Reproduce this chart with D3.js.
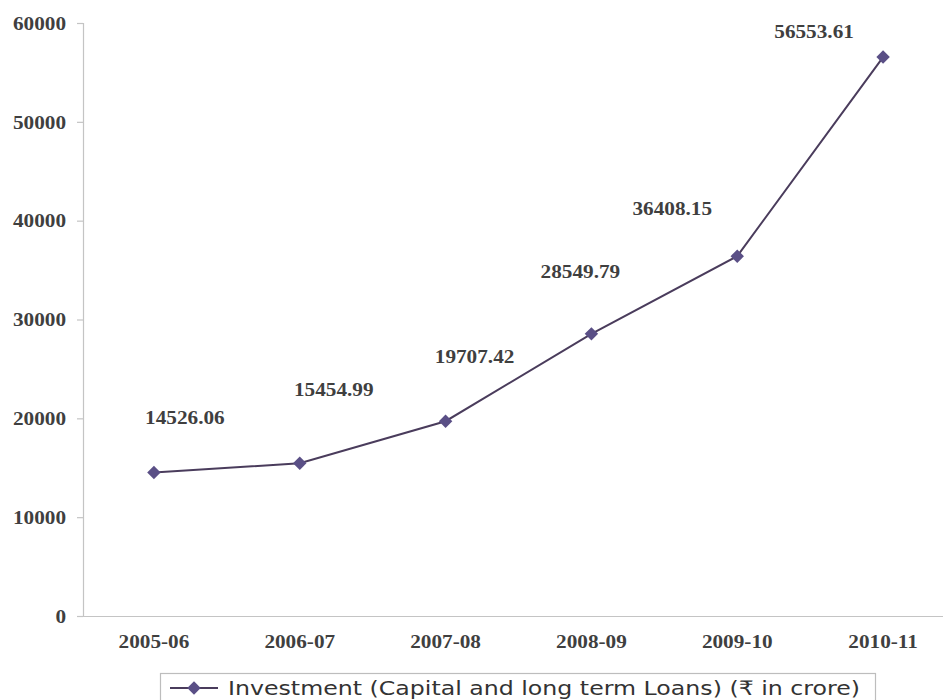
<!DOCTYPE html>
<html>
<head>
<meta charset="utf-8">
<script src="https://cdn.jsdelivr.net/npm/d3@7"></script>
<style>
  html, body { margin: 0; padding: 0; background: #fff; }
  svg { display: block; }
</style>
</head>
<body>
<svg id="chart" width="943" height="700"></svg>
<script>
// Financial years on the category axis
const years = ["2005-06", "2006-07", "2007-08", "2008-09", "2009-10", "2010-11"];
// Investment (capital and long term loans), ₹ in crore
const investment = [14526.06, 15454.99, 19707.42, 28549.79, 36408.15, 56553.61];
// Value axis ticks
const yTicks = [0, 10000, 20000, 30000, 40000, 50000, 60000];
const seriesName = "Investment (Capital and long term Loans) (₹ in crore)";

// Hand-placed value label offsets (px) from each point
const labelDx = [31, 34, 29, -11, -65, -69];
const labelDy = [-55, -74, -65, -62, -47, -25];

const W = 943, H = 700;
const plot = { left: 83, right: 943, top: 23, bottom: 616 };
const textColor = "#3f3f3f";
const axisColor = "#c4c4c4";
const lineColor = "#4a3c5c";
const markerColor = "#5a4f86";
const serif = "'Liberation Serif', 'Times New Roman', serif";
const stretch = 1.18;

const svg = d3.select("#chart");

const x = d3.scaleBand().domain(years).range([81, 956]).padding(0);
const cx = d => x(d) + x.bandwidth() / 2;
const y = d3.scaleLinear().domain([0, 60000]).range([plot.bottom, plot.top]);

// Value axis
const yAxis = svg.append("g")
  .attr("transform", `translate(${plot.left},0)`)
  .call(d3.axisLeft(y).tickValues(yTicks).tickSize(6).tickPadding(0).tickFormat(d3.format("d")));
yAxis.select(".domain").attr("stroke", axisColor).attr("stroke-width", 1.2)
  .attr("d", `M0.5,${plot.top}V${plot.bottom}`);
yAxis.selectAll(".tick line").attr("stroke", axisColor).attr("stroke-width", 1.2);
yAxis.selectAll(".tick text")
  .attr("x", 0).attr("dy", "0.35em")
  .attr("text-anchor", "end")
  .attr("transform", `translate(-17,0) scale(${stretch},1)`)
  .attr("fill", textColor)
  .style("font-family", serif).style("font-weight", "bold").style("font-size", "18px");

// Category axis
const xAxis = svg.append("g")
  .attr("transform", `translate(0,${plot.bottom})`)
  .call(d3.axisBottom(x).tickSize(0).tickPadding(0));
xAxis.select(".domain").remove();
xAxis.selectAll(".tick text")
  .attr("y", 0).attr("dy", "0")
  .attr("transform", `translate(0,32) scale(${stretch},1)`)
  .attr("fill", textColor)
  .style("font-family", serif).style("font-weight", "bold").style("font-size", "18px");
svg.append("line")
  .attr("x1", plot.left).attr("x2", plot.right)
  .attr("y1", plot.bottom + 0.5).attr("y2", plot.bottom + 0.5)
  .attr("stroke", axisColor).attr("stroke-width", 1.2);

const pts = years.map((yr, i) => ({ yr, v: investment[i], i }));

// Series line
svg.append("path")
  .datum(pts)
  .attr("fill", "none")
  .attr("stroke", lineColor)
  .attr("stroke-width", 2)
  .attr("d", d3.line().x(d => cx(d.yr)).y(d => y(d.v)));

// Diamond markers
const diamond = d3.symbol().type(d3.symbolSquare).size(90);
svg.append("g").selectAll("path")
  .data(pts)
  .join("path")
  .attr("d", diamond)
  .attr("transform", d => `translate(${cx(d.yr)},${y(d.v)}) rotate(45)`)
  .attr("fill", markerColor);

// Value labels
const fmt = d3.format(".2f");
svg.append("g").selectAll("text")
  .data(pts)
  .join("text")
  .attr("transform", d => `translate(${cx(d.yr) + labelDx[d.i]},${y(d.v) + labelDy[d.i]}) scale(${stretch},1)`)
  .attr("dy", "0.35em")
  .attr("text-anchor", "middle")
  .attr("fill", textColor)
  .style("font-family", serif).style("font-weight", "bold").style("font-size", "18px")
  .text(d => fmt(d.v));

// Legend
const legend = svg.append("g");
legend.append("rect")
  .attr("x", 160.5).attr("y", 673.5)
  .attr("width", 715).attr("height", 40)
  .attr("fill", "#fff").attr("stroke", "#bdbdbd").attr("stroke-width", 1.2);
legend.append("line")
  .attr("x1", 170).attr("x2", 218).attr("y1", 688).attr("y2", 688)
  .attr("stroke", lineColor).attr("stroke-width", 2);
legend.append("path")
  .attr("d", diamond)
  .attr("transform", "translate(194,688) rotate(45)")
  .attr("fill", markerColor);
const lt = legend.append("text")
  .attr("x", 228).attr("y", 688).attr("dy", "0.35em")
  .attr("fill", "#333")
  .style("font-family", "'DejaVu Sans', Verdana, sans-serif")
  .style("font-size", "20px")
  .text(seriesName);
const natural = lt.node().getComputedTextLength();
if (Math.abs(natural - 632) > 4) {
  lt.attr("textLength", 632).attr("lengthAdjust", "spacingAndGlyphs");
}
</script>
</body>
</html>
